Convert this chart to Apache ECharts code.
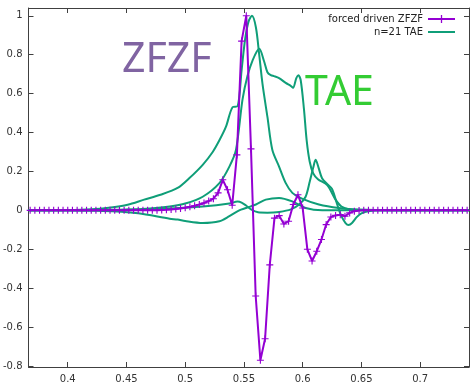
<!DOCTYPE html>
<html>
<head>
<meta charset="utf-8">
<script src="https://cdn.jsdelivr.net/npm/echarts@6.0.0/dist/echarts.min.js"></script>
<style>
body { margin: 0; background: #fff; }
#main { width: 470px; height: 384px; }
</style>
</head>
<body>
<div id="main"></div>
<script>
// forced driven ZFZF (points every 0.004)
const zfzfX = [0.368, 0.372, 0.376, 0.380, 0.384, 0.388, 0.392, 0.396, 0.400, 0.404, 0.408, 0.412, 0.416, 0.420,
  0.424, 0.428, 0.432, 0.436, 0.440, 0.444, 0.448, 0.452, 0.456, 0.460, 0.464, 0.468, 0.472, 0.476,
  0.480, 0.484, 0.488, 0.492, 0.496, 0.500, 0.504, 0.508, 0.512, 0.516, 0.520, 0.524, 0.528, 0.532,
  0.536, 0.540, 0.544, 0.548, 0.552, 0.556, 0.560, 0.564, 0.568, 0.572, 0.576, 0.580, 0.584, 0.588,
  0.592, 0.596, 0.600, 0.604, 0.608, 0.612, 0.616, 0.620, 0.624, 0.628, 0.632, 0.636, 0.640, 0.644,
  0.648, 0.652, 0.656, 0.660, 0.664, 0.668, 0.672, 0.676, 0.680, 0.684, 0.688, 0.692, 0.696, 0.700,
  0.704, 0.708, 0.712, 0.716, 0.720, 0.724, 0.728, 0.732, 0.736, 0.740]
const zfzfY = [0, 0, 0, 0, 0, 0, 0, 0, 0, 0, 0, 0, 0, 0,
  0, 0, 0, 0, 0, 0, 0, 0, 0, 0, 0, 0, 0, 0,
  0.002, 0.003, 0.005, 0.007, 0.01, 0.014, 0.018, 0.024, 0.03, 0.038, 0.048, 0.06, 0.09, 0.157,
  0.106, 0.026, 0.285, 0.87, 1.0, 0.316, -0.44, -0.77, -0.66, -0.28, -0.04, -0.027, -0.07, -0.056,
  0.03, 0.08, 0.012, -0.2, -0.26, -0.21, -0.15, -0.073, -0.034, -0.026, -0.022, -0.03, -0.013, -0.004,
  -0.001, 0, 0, 0, 0, 0, 0, 0, 0, 0, 0, 0, 0, 0,
  0, 0, 0, 0, 0, 0, 0, 0, 0, 0]

// n=21 TAE components
const taeAx = [0.3666, 0.40, 0.42, 0.435, 0.451, 0.465, 0.479, 0.4935, 0.5036, 0.5149, 0.5234, 0.5291, 0.5347,
  0.5403, 0.5446, 0.548, 0.551, 0.5539, 0.5568, 0.5602, 0.5630, 0.5658, 0.57, 0.5742, 0.5799, 0.5856,
  0.5912, 0.5994, 0.6138, 0.6308, 0.6477, 0.68, 0.7416]
const taeAy = [0, 0.002, 0.006, 0.014, 0.029, 0.055, 0.08, 0.115, 0.166, 0.234, 0.30, 0.36, 0.43,
  0.53, 0.535, 0.72, 0.88, 0.97, 1.0, 0.94, 0.8, 0.65, 0.48, 0.31, 0.225, 0.14,
  0.09, 0.06, 0.03, 0.012, 0.004, 0.0005, 0]

const taeBx = [0.3666, 0.42, 0.45, 0.47, 0.4868, 0.50, 0.5149, 0.5291, 0.5376, 0.5432, 0.5488, 0.5530,
  0.5573, 0.5630, 0.5672, 0.5700, 0.5729, 0.5757, 0.5799, 0.5856, 0.5898, 0.5918, 0.5946, 0.5963,
  0.5983, 0.6011, 0.6034, 0.6060, 0.6090, 0.6130, 0.6209, 0.6280, 0.6330, 0.6400, 0.6500, 0.7416]
const taeBy = [0, 0.001, 0.004, 0.01, 0.02, 0.035, 0.07, 0.14, 0.225, 0.31, 0.57, 0.69,
  0.77, 0.83, 0.765, 0.71, 0.695, 0.69, 0.68, 0.655, 0.64, 0.63, 0.68, 0.695,
  0.67, 0.52, 0.36, 0.25, 0.19, 0.16, 0.13, 0.055, 0.02, 0.005, 0.001, 0]

const taeCx = [0.3666, 0.43, 0.46, 0.4868, 0.4935, 0.50, 0.5149, 0.5291, 0.5376, 0.546, 0.5518, 0.5602,
  0.5686, 0.5799, 0.5912, 0.6025, 0.6166, 0.64, 0.7416]
const taeCy = [0, -0.003, -0.015, -0.043, -0.047, -0.055, -0.065, -0.056, -0.03, 0.0, 0.012, 0.03,
  0.055, 0.064, 0.046, 0.012, 0.0, 0, 0]

const taeDx = [0.3666, 0.45, 0.4868, 0.5149, 0.5376, 0.5446, 0.548, 0.5518, 0.556, 0.562, 0.57, 0.58,
  0.59, 0.597, 0.6025, 0.6061, 0.609, 0.611, 0.6135, 0.6165, 0.621, 0.625, 0.6294, 0.633,
  0.6365, 0.639, 0.642, 0.646, 0.65, 0.656, 0.665, 0.7416]
const taeDy = [0, 0.003, 0.01, 0.02, 0.035, 0.045, 0.04, 0.025, 0.005, -0.01, -0.012, -0.008,
  0.005, 0.03, 0.07, 0.15, 0.22, 0.26, 0.22, 0.165, 0.135, 0.11, 0.03, -0.03,
  -0.065, -0.075, -0.065, -0.035, -0.015, -0.004, 0, 0]

const xTicks = [0.4, 0.45, 0.5, 0.55, 0.6, 0.65, 0.7]
const yTicks = [-0.8, -0.6, -0.4, -0.2, 0, 0.2, 0.4, 0.6, 0.8, 1]

const purple = '#9400d3'
const green = '#0f9e78'
const axisColor = '#404040'

function pairs (xs, ys) {
  return xs.map((x, i) => [x, ys[i]])
}

function taeSeries (xs, ys) {
  return {
    name: 'n=21 TAE',
    type: 'line',
    xAxisIndex: 0,
    yAxisIndex: 0,
    data: pairs(xs, ys),
    smooth: 0.3,
    symbol: 'none',
    lineStyle: { color: green, width: 2 },
    itemStyle: { color: green },
    z: 2
  }
}

const xBase = {
  type: 'value',
  min: 0.3666,
  max: 0.7416,
  splitLine: { show: false },
  axisLine: { show: true, onZero: false, lineStyle: { color: axisColor, width: 1 } },
  axisTick: { show: true, inside: true, length: 5, customValues: xTicks, lineStyle: { color: axisColor } }
}
const yBase = {
  type: 'value',
  min: -0.805,
  max: 1.04,
  splitLine: { show: false },
  axisLine: { show: true, onZero: false, lineStyle: { color: axisColor, width: 1 } },
  axisTick: { show: true, inside: true, length: 5, customValues: yTicks, lineStyle: { color: axisColor } }
}

const myChart = echarts.init(document.getElementById('main'))
myChart.setOption({
  animation: false,
  grid: { left: 28, right: 1, top: 8, bottom: 16 },
  xAxis: [
    Object.assign({}, xBase, {
      position: 'bottom',
      axisLabel: { customValues: xTicks, color: '#333', fontSize: 10, fontFamily: 'DejaVu Sans', margin: 7 }
    }),
    Object.assign({}, xBase, { position: 'top', axisLabel: { show: false } })
  ],
  yAxis: [
    Object.assign({}, yBase, {
      position: 'left',
      axisLabel: { customValues: yTicks, color: '#333', fontSize: 10, fontFamily: 'DejaVu Sans', margin: 6 }
    }),
    Object.assign({}, yBase, { position: 'right', axisLabel: { show: false } })
  ],
  legend: {
    orient: 'vertical',
    right: 9,
    top: 9,
    align: 'right',
    itemWidth: 27,
    itemHeight: 10,
    itemGap: 3,
    textStyle: { fontSize: 10, color: '#222', fontFamily: 'DejaVu Sans' },
    data: [
      'forced driven ZFZF',
      {
        name: 'n=21 TAE',
        // plain line sample, like the plot's key
        icon: 'path://M0,0 L27,0 L27,0 Z M0,4 L27,4 L27,6 L0,6 Z M0,10 L27,10 L27,10 Z'
      }
    ]
  },
  graphic: [
    {
      type: 'text',
      x: 122,
      y: 60,
      style: { text: 'ZFZF', fill: '#8064a2', font: '41px "Noto Sans"', align: 'left', verticalAlign: 'middle' }
    },
    {
      type: 'text',
      x: 305,
      y: 93,
      style: { text: 'TAE', fill: '#33cc33', font: '41px "Noto Sans"', align: 'left', verticalAlign: 'middle' }
    }
  ],
  series: [
    taeSeries(taeAx, taeAy),
    taeSeries(taeBx, taeBy),
    taeSeries(taeCx, taeCy),
    taeSeries(taeDx, taeDy),
    {
      name: 'forced driven ZFZF',
      type: 'line',
      data: pairs(zfzfX, zfzfY),
      symbol: 'path://M-1,-0.16 L1,-0.16 L1,0.16 L-1,0.16 Z M-0.16,-1 L0.16,-1 L0.16,1 L-0.16,1 Z',
      symbolSize: 7,
      lineStyle: { color: purple, width: 2 },
      itemStyle: { color: purple },
      z: 3
    }
  ]
})
window.addEventListener('resize', () => {
  myChart.resize()
})
</script>
</body>
</html>
